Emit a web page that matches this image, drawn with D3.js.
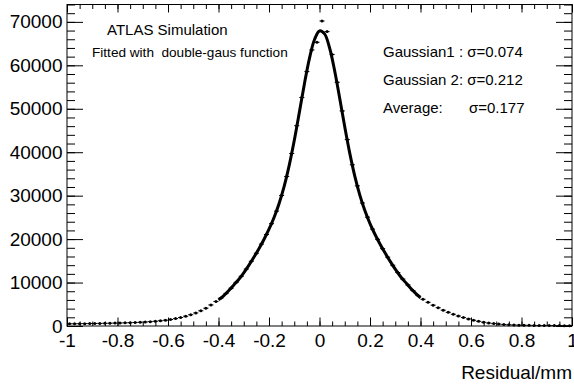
<!DOCTYPE html>
<html><head><meta charset="utf-8">
<script src="https://cdn.jsdelivr.net/npm/d3@7"></script>
<style>
html,body{margin:0;padding:0;background:#fff;overflow:hidden;}
svg{display:block;font-family:"Liberation Sans",Arial,Helvetica,sans-serif;}
text{white-space:pre;}
</style></head>
<body>
<svg id="c" width="574" height="387"></svg>
<script>
// ---- data ----
const binCenters = [
-0.99,-0.97,-0.95,-0.93,-0.91,-0.89,-0.87,-0.85,-0.83,-0.81,
-0.79,-0.77,-0.75,-0.73,-0.71,-0.69,-0.67,-0.65,-0.63,-0.61,
-0.59,-0.57,-0.55,-0.53,-0.51,-0.49,-0.47,-0.45,-0.43,-0.41,
-0.39,-0.37,-0.35,-0.33,-0.31,-0.29,-0.27,-0.25,-0.23,-0.21,
-0.19,-0.17,-0.15,-0.13,-0.11,-0.09,-0.07,-0.05,-0.03,-0.01,
0.01,0.03,0.05,0.07,0.09,0.11,0.13,0.15,0.17,0.19,
0.21,0.23,0.25,0.27,0.29,0.31,0.33,0.35,0.37,0.39,
0.41,0.43,0.45,0.47,0.49,0.51,0.53,0.55,0.57,0.59,
0.61,0.63,0.65,0.67,0.69,0.71,0.73,0.75,0.77,0.79,
0.81,0.83,0.85,0.87,0.89,0.91,0.93,0.95,0.97,0.99];
const binWidth = 0.02;
const counts = [
500,510,530,545,560,580,600,620,640,665,
690,730,770,810,860,920,1000,1090,1200,1340,
1500,1700,1950,2250,2600,3000,3500,4100,4850,5650,
6450,7500,8700,10050,11450,13100,14900,16750,18850,21050,
23550,26450,30050,34400,39700,46100,52600,58550,63550,65300,
70200,67760,62500,56100,49500,42900,37100,32250,28300,25050,
22300,19950,17800,15850,13990,12300,10800,9450,8150,7000,
6150,5450,4800,4200,3650,3150,2700,2300,1950,1620,
1330,1080,870,690,550,440,355,290,240,200,
170,150,135,122,112,104,97,91,86,82];
const fitX = [-0.40,-0.38,-0.36,-0.34,-0.32,-0.30,-0.28,-0.26,-0.24,-0.22,-0.20,
-0.18,-0.16,-0.14,-0.12,-0.10,-0.08,-0.06,-0.04,-0.02,0.00,
0.02,0.04,0.06,0.08,0.10,0.12,0.14,0.16,0.18,0.20,
0.22,0.24,0.26,0.28,0.30,0.32,0.34,0.36,0.38,0.40];
const fitY = [6000,6950,8100,9400,10700,12250,13957,15805,17783,19918,22279,
24982,28210,32152,36978,42706,49114,55666,61562,65896,67913,
67232,63980,58751,52419,45851,39739,34451,30078,26518,23579,
21064,18828,16776,14865,13077,11450,10100,8750,7550,6500];
const xTickValues = [-1,-0.8,-0.6,-0.4,-0.2,0,0.2,0.4,0.6,0.8,1];
const xTickLabels = ["-1","-0.8","-0.6","-0.4","-0.2","0","0.2","0.4","0.6","0.8","1"];
const xMinorValues = d3.range(-20,21).map(i=>i*0.05);
const yTickValues = [0,10000,20000,30000,40000,50000,60000,70000];
const yTickLabels = ["0","10000","20000","30000","40000","50000","60000","70000"];
const yMinorValues = d3.range(0,38).map(i=>i*2000);
const xDomain = [-1,1];
const yDomain = [0,74000];
const texts = {
  atlas: "ATLAS Simulation",
  fitted: "Fitted with  double-gaus function",
  g1: "Gaussian1 : \u03c3=0.074",
  g2: "Gaussian 2: \u03c3=0.212",
  avgLabel: "Average:",
  avgVal: "\u03c3=0.177",
  xTitle: "Residual/mm"
};

// ---- layout ----
const L=67, R=572, T=4.5, B=326;
const svg = d3.select("#c");
const x = d3.scaleLinear().domain(xDomain).range([L,R]);
const y = d3.scaleLinear().domain(yDomain).range([B,T]);

function styleAxis(g){ g.select(".domain").remove(); g.selectAll("line").attr("stroke","#000").attr("stroke-width",1); }

const fs = 19;
// bottom
svg.append("g").attr("transform",`translate(0,${B})`)
  .call(d3.axisBottom(x).tickValues(xMinorValues).tickSizeInner(-4.5).tickSizeOuter(0).tickFormat(""))
  .call(styleAxis);
const gb = svg.append("g").attr("transform",`translate(0,${B})`)
  .call(d3.axisBottom(x).tickValues(xTickValues).tickSizeInner(-8.5).tickSizeOuter(0).tickPadding(7.5)
    .tickFormat((d,i)=>xTickLabels[i]))
  .call(styleAxis);
gb.selectAll("text").attr("font-size",fs).attr("font-family","Liberation Sans, Arial, sans-serif").attr("fill","#000");
// top
svg.append("g").attr("transform",`translate(0,${T})`)
  .call(d3.axisTop(x).tickValues(xMinorValues).tickSizeInner(-4.5).tickSizeOuter(0).tickFormat(""))
  .call(styleAxis);
svg.append("g").attr("transform",`translate(0,${T})`)
  .call(d3.axisTop(x).tickValues(xTickValues).tickSizeInner(-8).tickSizeOuter(0).tickFormat(""))
  .call(styleAxis);
// left
svg.append("g").attr("transform",`translate(${L},0)`)
  .call(d3.axisLeft(y).tickValues(yMinorValues).tickSizeInner(-8).tickSizeOuter(0).tickFormat(""))
  .call(styleAxis);
const gl = svg.append("g").attr("transform",`translate(${L},0)`)
  .call(d3.axisLeft(y).tickValues(yTickValues).tickSizeInner(-16).tickSizeOuter(0).tickPadding(4.5)
    .tickFormat((d,i)=>yTickLabels[i]))
  .call(styleAxis);
gl.selectAll("text").attr("font-size",fs).attr("font-family","Liberation Sans, Arial, sans-serif").attr("fill","#000");
// right
svg.append("g").attr("transform",`translate(${R},0)`)
  .call(d3.axisRight(y).tickValues(yMinorValues).tickSizeInner(-8).tickSizeOuter(0).tickFormat(""))
  .call(styleAxis);
svg.append("g").attr("transform",`translate(${R},0)`)
  .call(d3.axisRight(y).tickValues(yTickValues).tickSizeInner(-16).tickSizeOuter(0).tickFormat(""))
  .call(styleAxis);

// frame
svg.append("rect").attr("x",L).attr("y",T).attr("width",R-L).attr("height",B-T)
  .attr("fill","none").attr("stroke","#000").attr("stroke-width",1);

// histogram points
const pts = binCenters.map((c,i)=>({c, v:counts[i]}));
const gp = svg.append("g");
gp.selectAll("line.eb").data(pts).enter().append("line")
  .attr("x1",d=>x(d.c-binWidth/2)).attr("x2",d=>x(d.c+binWidth/2))
  .attr("y1",d=>y(d.v)).attr("y2",d=>y(d.v)).attr("stroke","#000").attr("stroke-width",1);
gp.selectAll("circle").data(pts).enter().append("circle")
  .attr("cx",d=>x(d.c)).attr("cy",d=>y(d.v)).attr("r",1.5).attr("fill","#000");

// fit curve
const fit = fitX.map((fx,i)=>[fx,fitY[i]]);
svg.append("path").datum(fit)
  .attr("d", d3.line().x(d=>x(d[0])).y(d=>y(d[1])).curve(d3.curveCatmullRom.alpha(0.5)))
  .attr("fill","none").attr("stroke","#000").attr("stroke-width",3).attr("stroke-linejoin","round");

// texts
function txt(s,xp,yp,size,anchor){
  svg.append("text").attr("x",xp).attr("y",yp).attr("font-size",size)
    .attr("xml:space","preserve").style("white-space","pre")
    .attr("text-anchor",anchor||"start").attr("fill","#000").text(s);
}
txt(texts.atlas,107,35,15);
txt(texts.fitted,92,56.5,13.6);
txt(texts.g1,383,56.5,15);
txt(texts.g2,383,85,15);
txt(texts.avgLabel,383,112.5,15);
txt(texts.avgVal,469,112.5,15);
txt(texts.xTitle,572,379,19,"end");
</script>
</body></html>
